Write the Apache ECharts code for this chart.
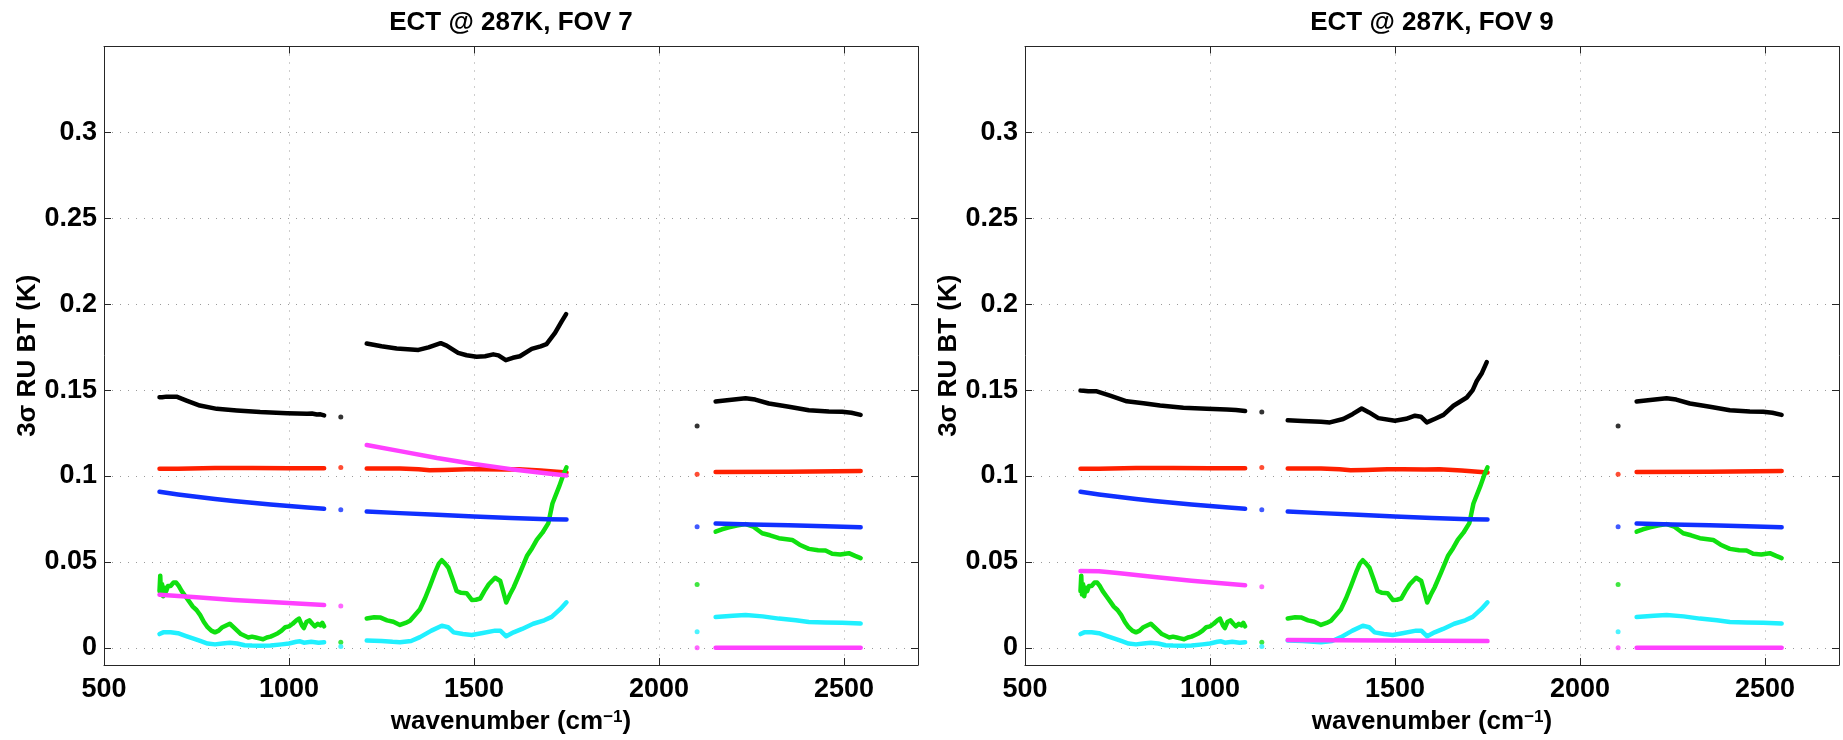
<!DOCTYPE html>
<html>
<head>
<meta charset="utf-8">
<script src="https://cdn.jsdelivr.net/npm/echarts@6/dist/echarts.min.js"></script>
<style>
html,body{margin:0;padding:0;background:#fff;}
#chart{width:1843px;height:740px;}
</style>
</head>
<body>
<div id="chart"></div>
<script>
// ---------------- data ----------------
const titles = ['ECT @ 287K, FOV 7', 'ECT @ 287K, FOV 9'];
const xTicks = [500, 1000, 1500, 2000, 2500];
const yTicks = [0, 0.05, 0.1, 0.15, 0.2, 0.25, 0.3];

// black (FOV-specific in LW / MW)
const blackLW_7 = [[650,0.1459],[653,0.1470],[657,0.1458],[662,0.1464],[669,0.1462],[696,0.1462],[723,0.1439],[759,0.1410],[805,0.1391],[859,0.1382],[922,0.1372],[995,0.1366],[1049,0.1362],[1062,0.1364],[1075,0.1358],[1085,0.1359],[1095,0.1353]];
const blackMW_7 = [[1210,0.1771],[1250,0.1755],[1291,0.1742],[1350,0.1734],[1377,0.1749],[1410,0.1773],[1426,0.1759],[1457,0.1717],[1480,0.1703],[1507,0.1694],[1530,0.1697],[1552,0.1708],[1566,0.1702],[1586,0.1674],[1605,0.1688],[1624,0.1697],[1656,0.1740],[1680,0.1755],[1696,0.1768],[1719,0.1833],[1737,0.1900],[1749,0.1942]];
const blackLW_9 = [[650,0.1497],[653,0.1486],[658,0.1496],[671,0.1493],[694,0.1493],[730,0.1468],[775,0.1435],[820,0.1424],[865,0.1410],[928,0.1397],[991,0.1391],[1045,0.1387],[1070,0.1384],[1095,0.1378]];
const blackMW_9 = [[1210,0.1324],[1250,0.1320],[1300,0.1316],[1324,0.1312],[1360,0.1332],[1385,0.1360],[1410,0.1393],[1430,0.1370],[1455,0.1337],[1500,0.1322],[1530,0.1333],[1554,0.1351],[1570,0.1345],[1586,0.1312],[1610,0.1335],[1631,0.1356],[1658,0.1409],[1694,0.1457],[1710,0.1500],[1721,0.1553],[1735,0.1600],[1748,0.1663]];
const blackSW = [[2153,0.1434],[2190,0.1443],[2234,0.1453],[2260,0.1445],[2297,0.1422],[2351,0.1403],[2405,0.1383],[2459,0.1376],[2495,0.1374],[2520,0.1368],[2545,0.1356]];

// red
const redLW = [[650,0.1043],[700,0.1043],[800,0.1046],[900,0.1046],[1000,0.1045],[1095,0.1045]];
const redMW = [[1210,0.1044],[1300,0.1044],[1350,0.1040],[1380,0.1033],[1420,0.1035],[1480,0.1040],[1520,0.1040],[1580,0.1038],[1620,0.1040],[1680,0.1032],[1750,0.1020]];
const redSW = [[2153,0.1023],[2350,0.1025],[2545,0.1029]];

// blue
const blueLW = [[650,0.0908],[700,0.0893],[750,0.0879],[800,0.0866],[850,0.0855],[900,0.0844],[950,0.0834],[1000,0.0825],[1050,0.0817],[1095,0.0809]];
const blueMW = [[1210,0.0793],[1300,0.0784],[1400,0.0774],[1500,0.0764],[1600,0.0756],[1700,0.0749],[1750,0.0747]];
const blueSW = [[2153,0.0723],[2250,0.0718],[2350,0.0713],[2450,0.0707],[2545,0.0702]];

// green
const greenLW = [[650,0.033],[652,0.042],[654,0.031],[657,0.037],[660,0.030],[664,0.035],[668,0.033],[673,0.036],[680,0.036],[688,0.038],[695,0.038],[702,0.036],[710,0.033],[720,0.030],[730,0.027],[740,0.024],[750,0.022],[760,0.019],[770,0.015],[780,0.012],[790,0.010],[800,0.009],[810,0.010],[820,0.012],[830,0.013],[840,0.014],[850,0.012],[860,0.010],[870,0.008],[880,0.007],[890,0.006],[900,0.0065],[910,0.006],[920,0.0055],[930,0.005],[940,0.006],[950,0.0065],[960,0.0075],[970,0.0085],[980,0.010],[990,0.012],[1000,0.0125],[1010,0.014],[1020,0.016],[1027,0.017],[1035,0.013],[1040,0.0115],[1047,0.015],[1055,0.016],[1063,0.014],[1070,0.0125],[1078,0.014],[1085,0.013],[1090,0.0145],[1095,0.0125]];
const greenMW = [[1210,0.0171],[1230,0.0178],[1246,0.0177],[1265,0.0160],[1282,0.0152],[1300,0.0133],[1315,0.0145],[1327,0.0158],[1340,0.0190],[1354,0.0225],[1368,0.0290],[1381,0.0360],[1395,0.0440],[1405,0.0490],[1413,0.0510],[1422,0.0490],[1431,0.0466],[1442,0.0400],[1453,0.0331],[1465,0.0320],[1480,0.0318],[1494,0.0279],[1505,0.0280],[1517,0.0287],[1528,0.0330],[1540,0.0370],[1557,0.0408],[1571,0.0389],[1580,0.0320],[1587,0.0264],[1597,0.0310],[1607,0.0351],[1625,0.0440],[1643,0.0534],[1657,0.0580],[1670,0.0630],[1685,0.0670],[1701,0.0726],[1712,0.0840],[1730,0.0938],[1742,0.1010],[1750,0.1050]];
const greenSW = [[2153,0.0676],[2170,0.0690],[2189,0.0701],[2210,0.0712],[2234,0.0720],[2255,0.0705],[2279,0.0667],[2300,0.0655],[2324,0.0638],[2345,0.0632],[2360,0.0628],[2380,0.0600],[2405,0.0576],[2430,0.0568],[2450,0.0566],[2468,0.0547],[2490,0.0543],[2513,0.0551],[2530,0.0535],[2545,0.0522]];

// cyan
const cyanLW = [[650,0.0080],[655,0.0075],[660,0.0090],[680,0.0090],[700,0.0085],[720,0.0070],[740,0.0055],[760,0.0040],[780,0.0025],[800,0.0020],[820,0.0025],[840,0.0030],[860,0.0025],[880,0.0015],[900,0.0013],[920,0.0012],[950,0.0013],[980,0.0020],[1000,0.0025],[1020,0.0035],[1030,0.0038],[1040,0.0030],[1060,0.0035],[1080,0.0030],[1095,0.0033]];
const cyanMW = [[1210,0.0042],[1250,0.0040],[1280,0.0035],[1300,0.0033],[1330,0.0040],[1354,0.0062],[1385,0.0100],[1413,0.0129],[1430,0.0120],[1445,0.0090],[1470,0.0080],[1494,0.0075],[1520,0.0085],[1557,0.0100],[1571,0.0100],[1587,0.0067],[1607,0.0090],[1630,0.0110],[1660,0.0140],[1690,0.0160],[1710,0.0180],[1733,0.0225],[1750,0.0265]];
const cyanSW = [[2153,0.0179],[2200,0.0187],[2234,0.0191],[2280,0.0183],[2324,0.0170],[2370,0.0160],[2405,0.0150],[2450,0.0148],[2495,0.0146],[2545,0.0141]];

// magenta (FOV-specific in LW / MW)
const magentaLW_7 = [[650,0.0309],[750,0.0294],[850,0.0279],[950,0.0266],[1095,0.0249]];
const magentaMW_7 = [[1210,0.1180],[1300,0.1145],[1400,0.1105],[1500,0.1070],[1600,0.1040],[1700,0.1015],[1750,0.1003]];
const magentaLW_9 = [[650,0.0447],[700,0.0446],[750,0.0435],[850,0.0412],[950,0.0390],[1095,0.0364]];
const magentaMW_9 = [[1210,0.0046],[1750,0.0039]];
const magentaSW = [[2153,0.0],[2545,0.0]];

// isolated channels
const blackPts_7 = [[1140,0.1343],[2103,0.1291]];
const blackPts_9 = [[1140,0.1372],[2103,0.1291]];
const redPts = [[1140,0.1050],[2103,0.1010]];
const bluePts = [[1140,0.0803],[2103,0.0705]];
const greenPts = [[1140,0.0033],[2103,0.0368]];
const cyanPts = [[1140,0.0008],[2103,0.0094]];
const magentaPts_7 = [[1140,0.0243],[2103,0.0]];
const magentaPts_9 = [[1140,0.0355],[2103,0.0]];

// ---------------- styling ----------------
const FONT = '"Liberation Sans", Arial, Helvetica, sans-serif';
const C = {black:'#000000', red:'#ff2000', blue:'#1030ff', green:'#10e010', magenta:'#ff40ff', cyan:'#20f0ff'};
const AXC = '#262626';

const panels = [
  {black:[blackLW_7, blackMW_7, blackSW], blackPts: blackPts_7,
   magenta:[magentaLW_7, magentaMW_7, magentaSW], magentaPts: magentaPts_7},
  {black:[blackLW_9, blackMW_9, blackSW], blackPts: blackPts_9,
   magenta:[magentaLW_9, magentaMW_9, magentaSW], magentaPts: magentaPts_9}
];

const grids = [
  {left:104, top:46.5, width:814, height:623.5},
  {left:1025, top:46.5, width:814, height:623.5}
];

const xAxes = [], yAxes = [], series = [], titleArr = [];
const gridLine = {show:true, lineStyle:{type:[1,7], color:'#9a9a9a', width:1}};
const tickLbl = {color:'#000', fontSize:27, fontWeight:'bold', fontFamily:FONT, formatter: v => String(v)};

grids.forEach((g, gi) => {
  titleArr.push({text: titles[gi], left: g.left + g.width/2, top: 10, textAlign:'center', padding:0,
    textStyle:{fontSize:26, fontWeight:'bold', fontFamily:FONT, color:'#000'}});
  // bottom x
  xAxes.push({type:'value', gridIndex:gi, min:500, max:2700, position:'bottom',
    axisLine:{show:true, onZero:false, lineStyle:{color:AXC, width:1}},
    axisTick:{show:true, inside:true, length:7, customValues:xTicks, lineStyle:{color:AXC}},
    axisLabel:Object.assign({customValues:xTicks, margin:11}, tickLbl),
    splitLine:gridLine,
    name:'{t|wavenumber (cm}{s|−1}{t|)}', nameLocation:'middle', nameGap:44,
    nameTextStyle:{rich:{
      t:{fontSize:26, fontWeight:'bold', fontFamily:FONT, color:'#000'},
      s:{fontSize:17, fontWeight:'bold', fontFamily:FONT, color:'#000', verticalAlign:'top'}
    }}
  });
  // top x (mirror)
  xAxes.push({type:'value', gridIndex:gi, min:500, max:2700, position:'top',
    axisLine:{show:true, onZero:false, lineStyle:{color:AXC, width:1}},
    axisTick:{show:true, inside:true, length:7, customValues:xTicks, lineStyle:{color:AXC}},
    axisLabel:{show:false}, splitLine:{show:false}});
  // left y
  yAxes.push({type:'value', gridIndex:gi, min:-0.01, max:0.35, position:'left',
    axisLine:{show:true, onZero:false, lineStyle:{color:AXC, width:1}},
    axisTick:{show:true, inside:true, length:7, customValues:yTicks, lineStyle:{color:AXC}},
    axisLabel:Object.assign({customValues:yTicks, margin:7}, tickLbl),
    splitLine:gridLine,
    name:'3σ RU BT (K)', nameLocation:'middle', nameGap:50, nameRotate:90,
    nameTextStyle:{fontSize:26, fontWeight:'bold', fontFamily:FONT, color:'#000'}
  });
  // right y (mirror)
  yAxes.push({type:'value', gridIndex:gi, min:-0.01, max:0.35, position:'right',
    axisLine:{show:true, onZero:false, lineStyle:{color:AXC, width:1}},
    axisTick:{show:true, inside:true, length:7, customValues:yTicks, lineStyle:{color:AXC}},
    axisLabel:{show:false}, splitLine:{show:false}});

  const xi = gi*2, yi = gi*2;
  const line = (data, color, z) => series.push({type:'line', xAxisIndex:xi, yAxisIndex:yi, data,
    showSymbol:false, symbol:'none', silent:true, animation:false, z:z||2,
    lineStyle:{color, width:4.5, cap:'round', join:'round'}});
  const pts = (data, color) => series.push({type:'scatter', xAxisIndex:xi, yAxisIndex:yi, data,
    symbol:'circle', symbolSize:5, silent:true, animation:false, z:3, itemStyle:{color}});

  const p = panels[gi];
  [cyanLW, cyanMW, cyanSW].forEach(d => line(d, C.cyan));
  [redLW, redMW, redSW].forEach(d => line(d, C.red));
  p.black.forEach(d => line(d, C.black));
  [greenLW, greenMW, greenSW].forEach(d => line(d, C.green));
  [blueLW, blueMW].forEach(d => line(d, C.blue));
  line(blueSW, C.blue, 3);
  p.magenta.forEach(d => line(d, C.magenta, 3));
  pts(p.blackPts, C.black); pts(redPts, C.red); pts(bluePts, C.blue);
  pts(greenPts, C.green); pts(cyanPts, C.cyan); pts(p.magentaPts, C.magenta);
});

const chart = echarts.init(document.getElementById('chart'), null, {renderer:'canvas'});
chart.setOption({
  animation:false,
  backgroundColor:'#fff',
  title:titleArr,
  grid:grids,
  xAxis:xAxes,
  yAxis:yAxes,
  series:series
});
</script>
</body>
</html>
